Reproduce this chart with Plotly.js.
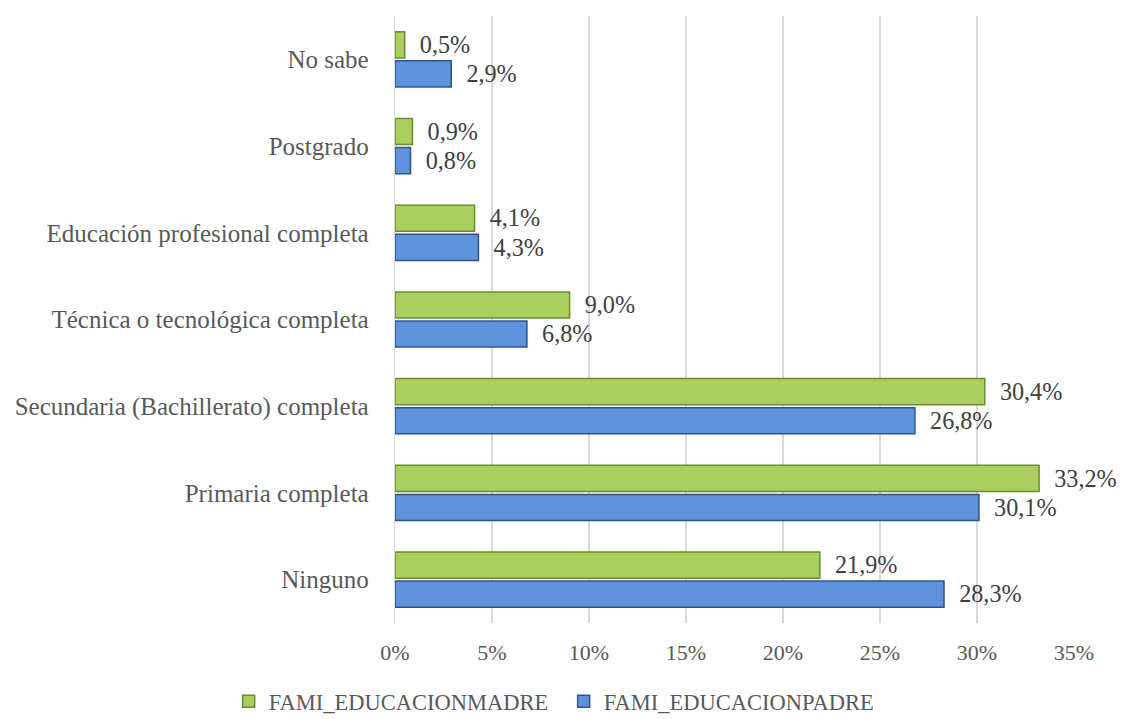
<!DOCTYPE html>
<html><head><meta charset="utf-8">
<script src="https://cdn.plot.ly/plotly-3.0.1.min.js"></script>
<style>html,body{margin:0;padding:0;background:#fff}</style>
</head><body>
<div id="chart" style="width:1122px;height:719px"></div>
<script>
const categories = ['Ninguno','Primaria completa','Secundaria (Bachillerato) completa','Técnica o tecnológica completa','Educación profesional completa','Postgrado','No sabe'];
const madre = [21.9, 33.2, 30.4, 9.0, 4.1, 0.9, 0.5];
const padre = [28.3, 30.1, 26.8, 6.8, 4.3, 0.8, 2.9];
const tickVals = [0,5,10,15,20,25,30,35];
const tickText = ['0%','5%','10%','15%','20%','25%','30%','35%'];
const fmt = v => '\u2002' + v.toFixed(1).replace('.', ',') + '%';
const FONT = 'Liberation Serif, serif';

const traces = [
  {type:'bar', orientation:'h', name:'FAMI_EDUCACIONPADRE', y:categories, x:padre,
   text:padre.map(fmt), textposition:'outside', cliponaxis:false,
   textfont:{family:FONT,size:25,color:'#404040'},
   marker:{color:'#5e92da', line:{color:'#2f5588', width:1.5}}},
  {type:'bar', orientation:'h', name:'FAMI_EDUCACIONMADRE', y:categories, x:madre,
   text:madre.map(fmt), textposition:'outside', cliponaxis:false,
   textfont:{family:FONT,size:25,color:'#404040'},
   marker:{color:'#aacf5e', line:{color:'#6c8c2e', width:1.5}}}
];

const layout = {
  width:1122, height:719,
  margin:{l:395, r:48, t:16, b:96, autoexpand:false},
  paper_bgcolor:'#fff', plot_bgcolor:'#fff',
  barmode:'group', bargap:0.33, bargroupgap:0.1,
  font:{family:FONT, size:25, color:'#595959'},
  xaxis:{range:[0,35], tickvals:tickVals, ticktext:tickText, showgrid:true, gridcolor:'#d9d9d9', gridwidth:1.3,
         zeroline:false, showline:false, ticks:'', ticklen:0, ticklabelstandoff:14,
         tickfont:{family:FONT,size:22,color:'#595959'}, automargin:false},
  yaxis:{type:'category', showgrid:false, zeroline:false, showline:true, linecolor:'#d9d9d9', linewidth:1.3,
         ticks:'', ticklabelstandoff:20, tickfont:{family:FONT,size:25,color:'#595959'}, automargin:false},
  showlegend:true,
  legend:{orientation:'h', x:-0.245, xanchor:'left', y:-0.094, yanchor:'top', traceorder:'reversed',
          entrywidth:290, entrywidthmode:'pixels',
          font:{family:FONT,size:22.5,color:'#595959'}, itemwidth:30}
};
Plotly.newPlot('chart', traces, layout, {displayModeBar:false, staticPlot:true});
</script>
</body></html>
